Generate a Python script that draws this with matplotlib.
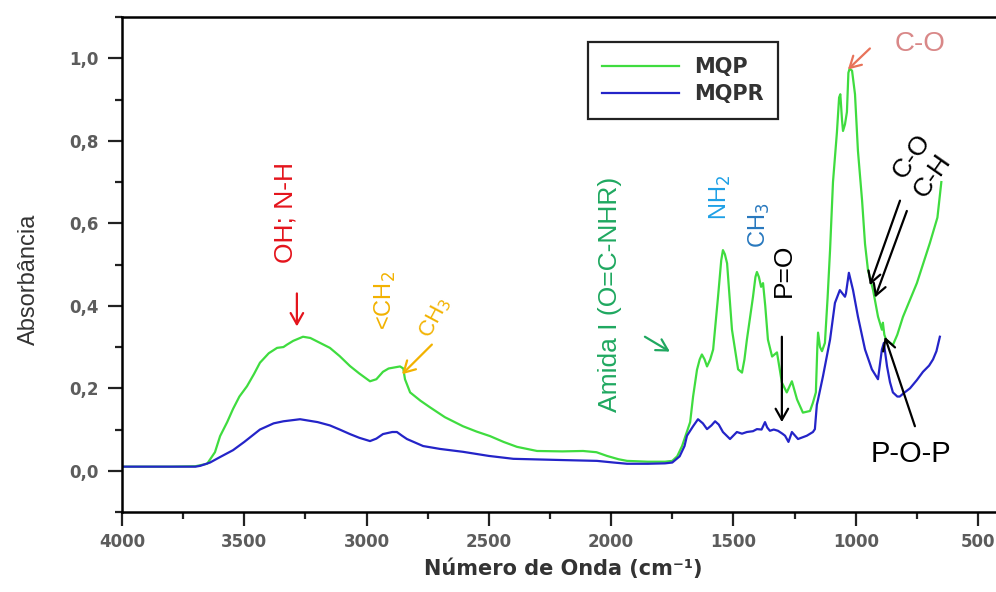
import matplotlib
matplotlib.use("Agg")
import matplotlib.pyplot as plt
from matplotlib.ticker import MultipleLocator, FuncFormatter

# FTIR absorbance spectra (wavenumber in cm^-1, absorbance)
mqp_wn = [4000, 3800, 3700, 3652, 3620, 3599, 3570, 3546, 3520, 3489, 3460, 3436,
          3400, 3366, 3340, 3325, 3300, 3260, 3230, 3190, 3150, 3110, 3068, 3030,
          2986, 2960, 2933, 2910, 2892, 2863, 2850, 2843, 2822, 2780, 2741, 2680,
          2606, 2550, 2495, 2440, 2385, 2303, 2200, 2115, 2060, 2017, 1970, 1935,
          1850, 1780, 1750, 1730, 1710, 1690, 1677, 1665, 1649, 1638, 1629, 1618,
          1608, 1595, 1583, 1563, 1550, 1543, 1535, 1526, 1506, 1481, 1465, 1455,
          1445, 1420, 1410, 1404, 1396, 1387, 1379, 1370, 1359, 1342, 1322, 1302,
          1282, 1261, 1240, 1216, 1187, 1175, 1163, 1157, 1154, 1146, 1138, 1126,
          1115, 1105, 1093, 1077, 1068, 1063, 1056, 1052, 1044, 1036, 1030, 1025,
          1015, 1003, 991, 974, 962, 950, 929, 909, 893, 889, 883, 876, 860, 848,
          830, 807, 750, 697, 666, 650]
mqp_abs = [0.010, 0.010, 0.011, 0.017, 0.045, 0.084, 0.118, 0.150, 0.180, 0.205, 0.235, 0.262,
           0.285, 0.298, 0.300, 0.306, 0.315, 0.325, 0.322, 0.310, 0.298, 0.278, 0.254, 0.236,
           0.217, 0.222, 0.240, 0.248, 0.250, 0.253, 0.248, 0.222, 0.190, 0.170, 0.154, 0.130,
           0.108, 0.095, 0.084, 0.070, 0.058, 0.048, 0.047, 0.048, 0.045, 0.036, 0.028, 0.024,
           0.022, 0.022, 0.024, 0.035, 0.060, 0.095, 0.118, 0.180, 0.245, 0.270, 0.282, 0.270,
           0.253, 0.270, 0.294, 0.422, 0.510, 0.535, 0.525, 0.503, 0.342, 0.246, 0.238, 0.270,
           0.318, 0.422, 0.470, 0.482, 0.470, 0.446, 0.455, 0.400, 0.318, 0.277, 0.287, 0.214,
           0.190, 0.217, 0.173, 0.141, 0.145, 0.165, 0.190, 0.300, 0.335, 0.300, 0.290, 0.310,
           0.420, 0.535, 0.700, 0.820, 0.905, 0.913, 0.850, 0.824, 0.840, 0.870, 0.965, 0.975,
           0.970, 0.913, 0.776, 0.655, 0.550, 0.487, 0.438, 0.374, 0.342, 0.359, 0.330, 0.318,
           0.310, 0.305, 0.330, 0.373, 0.455, 0.552, 0.614, 0.700]

mqpr_wn = [4000, 3800, 3700, 3680, 3640, 3600, 3546, 3500, 3436, 3380, 3340, 3272,
           3200, 3150, 3110, 3068, 3030, 2986, 2960, 2933, 2895, 2876, 2855, 2835,
           2800, 2769, 2700, 2606, 2500, 2400, 2200, 2058, 1990, 1935, 1850, 1780,
           1750, 1720, 1700, 1690, 1665, 1645, 1625, 1608, 1590, 1575, 1560, 1543,
           1514, 1486, 1465, 1445, 1420, 1404, 1385, 1371, 1362, 1351, 1335, 1318,
           1300, 1289, 1275, 1261, 1236, 1200, 1175, 1167, 1159, 1154, 1134, 1105,
           1085, 1065, 1044, 1040, 1028, 1011, 991, 962, 934, 909, 893, 885,
           872, 860, 848, 830, 820, 800, 778, 750, 725, 700, 684, 670,
           656]
mqpr_abs = [0.010, 0.010, 0.010, 0.012, 0.020, 0.033, 0.050, 0.070, 0.100, 0.115, 0.120, 0.125,
            0.118, 0.110, 0.100, 0.089, 0.080, 0.072, 0.078, 0.089, 0.094, 0.094, 0.085, 0.077,
            0.068, 0.060, 0.053, 0.046, 0.036, 0.029, 0.026, 0.024, 0.020, 0.017, 0.017, 0.018,
            0.020, 0.035, 0.060, 0.085, 0.108, 0.125, 0.115, 0.101, 0.110, 0.120, 0.112, 0.094,
            0.077, 0.094, 0.090, 0.094, 0.096, 0.101, 0.100, 0.118, 0.105, 0.097, 0.100, 0.097,
            0.090, 0.085, 0.070, 0.094, 0.077, 0.085, 0.094, 0.101, 0.160, 0.173, 0.229, 0.318,
            0.407, 0.438, 0.422, 0.430, 0.480, 0.438, 0.374, 0.294, 0.246, 0.222, 0.294, 0.310,
            0.253, 0.215, 0.190, 0.180, 0.180, 0.190, 0.200, 0.220, 0.240, 0.255, 0.270, 0.290,
            0.325]

series_labels = ["MQP", "MQPR"]
x_ticks = [4000, 3500, 3000, 2500, 2000, 1500, 1000, 500]
y_ticks = [0.0, 0.2, 0.4, 0.6, 0.8, 1.0]

GREEN = "#3fdc3f"
BLUE = "#2424c8"
SANS = ["Liberation Sans", "DejaVu Sans"]

fig = plt.figure(figsize=(9.96, 5.92), dpi=100)
ax = fig.add_axes([0.1225, 0.1351, 0.884, 0.836])

ax.plot(mqp_wn, mqp_abs, color=GREEN, lw=1.6, label=series_labels[0])
ax.plot(mqpr_wn, mqpr_abs, color=BLUE, lw=1.6, label=series_labels[1])

ax.set_xlim(4000, 400)
ax.set_ylim(-0.1, 1.1)
ax.set_xticks(x_ticks)
ax.set_yticks(y_ticks)
ax.xaxis.set_minor_locator(MultipleLocator(250))
ax.yaxis.set_minor_locator(MultipleLocator(0.1))
ax.yaxis.set_major_formatter(FuncFormatter(lambda v, p: f"{v:.1f}".replace(".", ",")))

for s in ("left", "top", "bottom"):
    ax.spines[s].set_linewidth(1.8)
ax.spines["right"].set_visible(False)
ax.tick_params(which="major", direction="out", length=10, width=1.6, colors="#222",
               labelcolor="#5c5c5c")
ax.tick_params(which="minor", direction="out", length=5, width=1.6, colors="#222")
ax.tick_params(axis="x", which="major", pad=5)
ax.tick_params(axis="y", which="major", pad=7)
for lab in ax.get_xticklabels() + ax.get_yticklabels():
    lab.set_fontfamily("DejaVu Sans")
    lab.set_fontweight("bold")
    lab.set_fontsize(12)

ax.set_xlabel("Número de Onda (cm⁻¹)", fontsize=15, fontweight="bold",
              family="DejaVu Sans", color="#333", va="center")
ax.xaxis.set_label_coords(0.501, -0.115)
ax.set_ylabel("Absorbância", fontsize=17, family=SANS, color="#333", va="center")
ax.yaxis.set_label_coords(-0.106, 0.471)

leg = ax.legend(loc="upper left", bbox_to_anchor=(0.529, 0.949), borderaxespad=0,
                fancybox=False, framealpha=1, edgecolor="#222",
                prop={"family": "DejaVu Sans", "weight": "bold", "size": 15},
                handlelength=3.7, handletextpad=0.7, labelspacing=0.35, borderpad=0.7)
leg.get_frame().set_linewidth(1.6)
for t in leg.get_texts():
    t.set_color("#333")


def note(x, y, s, color, size, rot=0):
    ax.text(x, y, s, color=color, fontsize=size, rotation=rot, family=SANS,
            ha="center", va="center")


def arrow(x0, y0, x1, y1, color, lw=1.6):
    ax.annotate("", xy=(x1, y1), xytext=(x0, y0),
                arrowprops=dict(arrowstyle="->,head_length=0.8,head_width=0.45",
                                color=color, lw=lw, shrinkA=0, shrinkB=0))


# band assignments
note(3330, 0.627, "OH; N-H", "#e4141c", 19, 90)
arrow(3285, 0.43, 3285, 0.35, "#e4141c")

note(2925, 0.414, "<CH$_2$", "#f2b200", 17, 90)
note(2720, 0.371, "CH$_3$", "#f2b200", 16, 62)
arrow(2733, 0.306, 2855, 0.234, "#f2b200")

note(2005, 0.427, "Amida I (O=C-NHR)", "#1fa860", 19, 90)
arrow(1862, 0.325, 1760, 0.289, "#1fa860")

note(1555, 0.663, "NH$_2$", "#1ea0e6", 17, 90)
note(1392, 0.595, "CH$_3$", "#2878be", 17, 90)

note(1294, 0.487, "P=O", "black", 19, 90)
arrow(1302, 0.325, 1302, 0.118, "black")

note(738, 1.036, "C-O", "#d98888", 20)
arrow(942, 1.024, 1032, 0.973, "#e8735a")

note(772, 0.762, "C-O", "black", 19, 55)
note(686, 0.716, "C-H", "black", 19, 55)
arrow(819, 0.655, 942, 0.45, "black")
arrow(791, 0.63, 921, 0.42, "black")

note(774, 0.041, "P-O-P", "black", 21)
arrow(758, 0.108, 881, 0.325, "black")

fig.savefig("out.png", dpi=100)
